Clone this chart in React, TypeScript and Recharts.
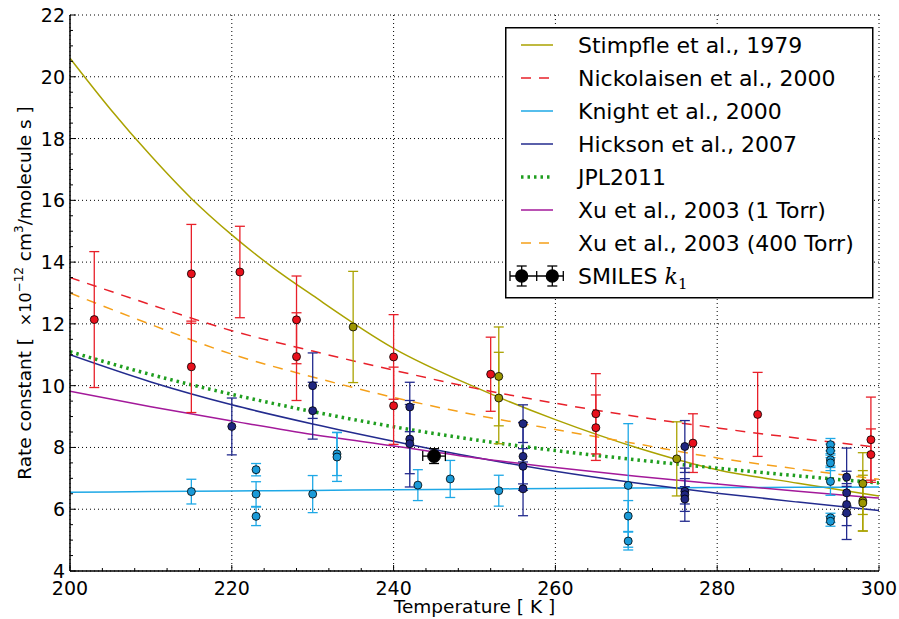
import React from 'react'
import {
  ComposedChart,
  Line,
  Scatter,
  ErrorBar,
  XAxis,
  YAxis,
  CartesianGrid,
  Legend,
} from 'recharts'

const FONT = '"DejaVu Sans", sans-serif'

// fitted curves, k in units of 1e-12 cm3/molecule/s
const curveTemps = [200, 210, 220, 230, 240, 250, 260, 270, 280, 290, 300]
const stimpfleTemps = [200, 205, 210, 215, 220, 225, 230, 240, 250, 260, 270, 280, 290, 300]
const stimpfleK = [20.6, 18.95, 17.44, 16.06, 14.88, 13.84, 12.92, 11.21, 9.96, 8.9, 8.0, 7.28, 6.84, 6.43]
const nickolaisenK = [13.5, 12.62, 11.78, 11.12, 10.5, 9.92, 9.43, 9.0, 8.63, 8.3, 8.0]
const knightK = [6.55, 6.57, 6.59, 6.61, 6.63, 6.65, 6.67, 6.69, 6.7, 6.71, 6.72]
const hicksonK = [11.0, 10.12, 9.38, 8.76, 8.2, 7.68, 7.23, 6.85, 6.52, 6.23, 5.96]
const jplK = [11.1, 10.36, 9.72, 9.16, 8.67, 8.25, 7.9, 7.6, 7.33, 7.08, 6.85]
const xu1K = [9.82, 9.32, 8.86, 8.42, 8.05, 7.67, 7.35, 7.07, 6.82, 6.58, 6.36]
const xu400K = [13.0, 11.98, 11.02, 10.28, 9.62, 9.06, 8.58, 8.12, 7.66, 7.3, 6.97]

// measurements: [T, k, error]
const nickolaisenPts = [
  [203, 12.14, 2.2], [215, 13.62, 1.6], [215, 10.61, 1.48], [221, 13.68, 1.48],
  [228, 12.13, 1.42], [228, 10.94, 1.42], [240, 10.93, 1.37], [240, 9.35, 1.25],
  [252, 10.37, 1.2], [265, 9.09, 1.3], [265, 8.64, 1.06], [277, 8.14, 0.95],
  [285, 9.07, 1.36], [299, 8.25, 1.38], [299, 7.77, 0.83],
]
const stimpflePts = [
  [235, 11.9, 1.8], [253, 10.3, 1.6], [253, 9.6, 1.48], [275, 7.63, 1.2],
  [298, 6.83, 1.0], [298, 6.27, 0.98], [298, 6.2, 0.9],
]
const knightPts = [
  [215, 6.57, 0.4], [223, 7.28, 0.2], [223, 6.49, 0.4], [223, 5.77, 0.3],
  [230, 6.49, 0.6], [233, 7.79, 0.7], [233, 7.69, 0.79], [243, 6.78, 0.5],
  [247, 6.98, 0.6], [253, 6.6, 0.5], [269, 6.77, 2.0], [269, 5.78, 0.5],
  [269, 4.97, 0.29], [294, 8.09, 0.2], [294, 7.89, 0.22], [294, 7.6, 0.2],
  [294, 7.5, 0.25], [294, 6.9, 0.45], [294, 5.72, 0.15], [294, 5.61, 0.16],
]
const hicksonPts = [
  [220, 8.68, 0.92], [230, 10.0, 1.06], [230, 9.19, 0.92], [242, 9.31, 0.8],
  [242, 8.27, 1.12], [242, 8.12, 1.4], [256, 8.77, 0.61], [256, 7.71, 1.1],
  [256, 7.39, 0.57], [256, 6.66, 0.87], [276, 8.03, 0.84], [276, 6.58, 0.41],
  [276, 6.47, 0.86], [276, 6.33, 0.4], [296, 7.04, 0.94], [296, 6.53, 0.7],
  [296, 6.15, 0.68], [296, 5.88, 0.86],
]
// [T, k, yerr, xerr]
const smilesPts = [[245, 7.72, 0.24, 1.4]]

const xMajor = [200, 220, 240, 260, 280, 300]
const yMajor = [4, 6, 8, 10, 12, 14, 16, 18, 20, 22]
const xMinorStep = 4
const yMinorStep = 0.5

const xTicks: number[] = []
for (let t = 200; t <= 300; t += xMinorStep) xTicks.push(t)
const yTicks: number[] = []
for (let k = 4; k <= 22; k += yMinorStep) yTicks.push(k)

const toCurve = (ts: number[], ks: number[]) => ts.map((t, i) => ({ t, k: ks[i] }))
const toPts = (rows: number[][]) => rows.map(([t, k, err, xerr]) => ({ t, k, err, xerr }))

const lineSeries = [
  { name: 'Stimpfle et al., 1979', data: toCurve(stimpfleTemps, stimpfleK), color: '#aaa200', width: 1.5 },
  { name: 'Nickolaisen et al., 2000', data: toCurve(curveTemps, nickolaisenK), color: '#e8202a', width: 1.5, dash: '10 8' },
  { name: 'Knight et al., 2000', data: toCurve(curveTemps, knightK), color: '#1ea8e6', width: 1.5 },
  { name: 'Hickson et al., 2007', data: toCurve(curveTemps, hicksonK), color: '#232b8e', width: 1.5 },
  { name: 'JPL2011', data: toCurve(curveTemps, jplK), color: '#1f9e1f', width: 3.5, dash: '2.5 4' },
  { name: 'Xu et al., 2003 (1 Torr)', data: toCurve(curveTemps, xu1K), color: '#a3199a', width: 1.5 },
  { name: 'Xu et al., 2003 (400 Torr)', data: toCurve(curveTemps, xu400K), color: '#f5a01a', width: 1.5, dash: '10 8' },
]

const pointSeries = [
  { key: 'stimpfle', data: toPts(stimpflePts), bar: '#aaa200', fill: '#9c9600' },
  { key: 'nickolaisen', data: toPts(nickolaisenPts), bar: '#e8202a', fill: '#e8101c' },
  { key: 'knight', data: toPts(knightPts), bar: '#1ea8e6', fill: '#1a9ad8' },
  { key: 'hickson', data: toPts(hicksonPts), bar: '#232b8e', fill: '#1f2680' },
]

const dotShape = (fill: string, r: number) => (p: any) =>
  <circle cx={p.cx} cy={p.cy} r={r} fill={fill} stroke="#000" strokeWidth={0.8} />

const renderBottomTick = (p: any) => {
  const major = xMajor.includes(p.payload.value)
  return (
    <g>
      <line x1={p.x} x2={p.x} y1={p.y} y2={p.y - (major ? 6 : 3)} stroke="#000" />
      {major && (
        <text x={p.x} y={p.y + 24} textAnchor="middle" fontSize={19} fontFamily={FONT} fill="#000">
          {p.payload.value}
        </text>
      )}
    </g>
  )
}

const renderTopTick = (p: any) => {
  const major = xMajor.includes(p.payload.value)
  return <line x1={p.x} x2={p.x} y1={p.y} y2={p.y + (major ? 6 : 3)} stroke="#000" />
}

const renderLeftTick = (p: any) => {
  const major = yMajor.includes(p.payload.value)
  return (
    <g>
      <line x1={p.x} x2={p.x + (major ? 6 : 3)} y1={p.y} y2={p.y} stroke="#000" />
      {major && (
        <text x={p.x - 5} y={p.y + 7} textAnchor="end" fontSize={19} fontFamily={FONT} fill="#000">
          {p.payload.value}
        </text>
      )}
    </g>
  )
}

const renderRightTick = (p: any) => {
  const major = yMajor.includes(p.payload.value)
  return <line x1={p.x} x2={p.x - (major ? 6 : 3)} y1={p.y} y2={p.y} stroke="#000" />
}

const renderXLabel = (p: any) => {
  const vb = p.viewBox
  return (
    <text x={vb.x + vb.width / 2} y={vb.y + 42} textAnchor="middle" fontSize={18.5} fontFamily={FONT} fill="#000">
      Temperature [ K ]
    </text>
  )
}

const renderYLabel = (p: any) => {
  const vb = p.viewBox
  return (
    <text
      transform={`translate(${vb.x + 31}, ${vb.y + vb.height / 2}) rotate(-90)`}
      textAnchor="middle"
      fontSize={18.5}
      fontFamily={FONT}
      fill="#000"
    >
      Rate constant [{'\u00a0\u00a0'}
      <tspan fontSize={16}>×10</tspan>
      <tspan fontSize={12} dy={-8}>−12</tspan>
      <tspan dy={8}>{'\u00a0'}cm</tspan>
      <tspan fontSize={12} dy={-8}>3</tspan>
      <tspan dy={8}>/molecule s ]</tspan>
    </text>
  )
}

const LegendBox = () => {
  const rowY = (i: number) => 18 + i * 33
  const sy = rowY(lineSeries.length)
  return (
    <svg width={369} height={272} style={{ display: 'block' }}>
      <rect x={0.75} y={0.75} width={367} height={270} fill="#fff" stroke="#000" strokeWidth={1.5} />
      {lineSeries.map((s, i) => (
        <g key={s.name}>
          <line x1={16} x2={48} y1={rowY(i)} y2={rowY(i)} stroke={s.color} strokeWidth={s.width} strokeDasharray={s.dash} />
          <text x={73} y={rowY(i) + 8} fontSize={22} fontFamily={FONT} fill="#000">{s.name}</text>
        </g>
      ))}
      <g stroke="#000" strokeWidth={1.3}>
        <line x1={5} x2={58} y1={sy} y2={sy} />
        {[5, 31.7, 58.3].map((x) => <line key={x} x1={x} x2={x} y1={sy - 5} y2={sy + 5} />)}
        {[16.7, 47.3].map((x) => (
          <g key={x}>
            <line x1={x} x2={x} y1={sy - 10} y2={sy + 10} />
            <line x1={x - 5} x2={x + 5} y1={sy - 10} y2={sy - 10} />
            <line x1={x - 5} x2={x + 5} y1={sy + 10} y2={sy + 10} />
            <circle cx={x} cy={sy} r={6} fill="#000" />
          </g>
        ))}
      </g>
      <text x={73} y={sy + 8} fontSize={22} fontFamily={FONT} fill="#000">
        SMILES{' '}
        <tspan fontFamily='"DejaVu Serif", serif' fontStyle="italic">k</tspan>
        <tspan fontFamily='"DejaVu Serif", serif' fontSize={15} dy={5}>1</tspan>
      </text>
    </svg>
  )
}

export default function App() {
  return (
    <div style={{ position: 'absolute', left: 0, top: 0, background: '#fff' }}>
      <ComposedChart width={899} height={619} margin={{ top: 15, right: 20, bottom: 0, left: 0 }}>
        <CartesianGrid
          horizontalValues={yMajor}
          verticalValues={xMajor}
          stroke="#000"
          strokeWidth={1}
          strokeDasharray="1 3"
        />
        <XAxis
          dataKey="t"
          type="number"
          domain={[200, 300]}
          ticks={xTicks}
          interval={0}
          allowDataOverflow
          height={48}
          tickLine={false}
          tickSize={0}
          tickMargin={0}
          axisLine={{ stroke: '#000', strokeWidth: 1.5 }}
          tick={renderBottomTick}
          label={renderXLabel}
        />
        <XAxis
          xAxisId="top"
          orientation="top"
          type="number"
          domain={[200, 300]}
          ticks={xTicks}
          interval={0}
          allowDataOverflow
          height={0}
          tickLine={false}
          tickSize={0}
          tickMargin={0}
          axisLine={{ stroke: '#000', strokeWidth: 1.5 }}
          tick={renderTopTick}
        />
        <YAxis
          type="number"
          domain={[4, 22]}
          ticks={yTicks}
          interval={0}
          allowDataOverflow
          width={70}
          tickLine={false}
          tickSize={0}
          tickMargin={0}
          axisLine={{ stroke: '#000', strokeWidth: 1.5 }}
          tick={renderLeftTick}
          label={renderYLabel}
        />
        <YAxis
          yAxisId="right"
          orientation="right"
          type="number"
          domain={[4, 22]}
          ticks={yTicks}
          interval={0}
          allowDataOverflow
          width={0}
          tickLine={false}
          tickSize={0}
          tickMargin={0}
          axisLine={{ stroke: '#000', strokeWidth: 1.5 }}
          tick={renderRightTick}
        />
        {lineSeries.map((s) => (
          <Line
            key={s.name}
            data={s.data}
            dataKey="k"
            type="monotone"
            stroke={s.color}
            strokeWidth={s.width}
            strokeDasharray={s.dash}
            dot={false}
            activeDot={false}
            legendType="none"
            isAnimationActive={false}
          />
        ))}
        {pointSeries.map((s) => (
          <Scatter
            key={s.key}
            data={s.data}
            dataKey="k"
            shape={dotShape(s.fill, 4)}
            legendType="none"
            isAnimationActive={false}
          >
            <ErrorBar dataKey="err" direction="y" width={5} stroke={s.bar} strokeWidth={1.3} />
          </Scatter>
        ))}
        <Scatter data={toPts(smilesPts)} dataKey="k" shape={dotShape('#000', 6.5)} legendType="none" isAnimationActive={false}>
          <ErrorBar dataKey="err" direction="y" width={5} stroke="#000" strokeWidth={1.3} />
          <ErrorBar dataKey="xerr" direction="x" width={5} stroke="#000" strokeWidth={1.3} />
        </Scatter>
        <Legend
          layout="vertical"
          align="center"
          verticalAlign="middle"
          wrapperStyle={{ left: 505, top: 27, width: 369, height: 272 }}
          content={() => <LegendBox />}
        />
      </ComposedChart>
    </div>
  )
}
